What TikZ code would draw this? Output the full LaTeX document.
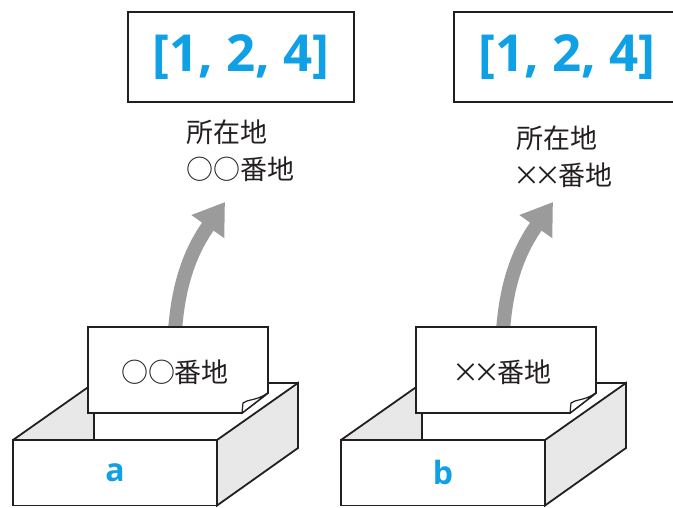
\documentclass[tikz,border=0pt]{standalone}
\usepackage{fontspec}
\setmainfont{Open Sans}
\newfontfamily\jpfont{Noto Sans CJK JP}
\usetikzlibrary{arrows.meta}

\definecolor{valblue}{HTML}{0FA0E6}
\definecolor{arrowgray}{HTML}{9B9B9B}
\definecolor{sidegray}{HTML}{E8E8E8}
\definecolor{inkline}{HTML}{231F20}

% a narrow multiplication sign
\newcommand\nx{\makebox[21pt][c]{×}}

\tikzset{
  edge/.style={draw=inkline, line width=1.8pt, line join=miter},
  valuebox/.style={draw=inkline, line width=2.6pt, fill=white,
    minimum width=226pt, minimum height=90pt, inner sep=0pt,
    text=valblue, font=\fontsize{51}{51}\selectfont\bfseries},
  addrlabel/.style={anchor=north west, align=left, inner sep=0pt,
    text=inkline, font=\jpfont\fontsize{27}{37}\selectfont},
  cardtext/.style={inner sep=0pt, text=inkline,
    font=\jpfont\fontsize{27}{27}\selectfont},
  frontface/.style={edge, fill=white, minimum width=204pt,
    minimum height=65.5pt, inner sep=0pt, text=valblue,
    font=\fontsize{32}{32}\selectfont\bfseries},
  addrarrow/.style={draw=arrowgray, line width=14pt,
    -{Triangle[length=30pt, width=38pt]}},
}

% An open tray holding an address card, with an arrow rising from the card.
% #1 name prefix, #2 text on the card, #3 letter on the tray front
\newcommand\drawtray[3]{%
  % inside of the tray: left wall and the back rim
  \fill[sidegray] (13,67) -- (94,124) -- (94,67) -- cycle;
  \draw[edge] (94,124) -- (94,67);
  \draw[edge] (13,67) -- (94,124) -- (298,124);
  % arrow from the card up to the address
  \coordinate (#1from) at (175,176);
  \coordinate (#1tip) at (225,305);
  \draw[addrarrow] (#1from) to[out=86, in=235] (#1tip);
  % the card with a folded corner
  \filldraw[edge, fill=white] (88,180) -- (268,180) -- (268,114)
    -- (242,94) -- (88,94) -- cycle;
  \filldraw[edge, line width=1.2pt, fill=white] (268,114)
    .. controls (256,106) and (248,108) .. (243,104) -- (242,94) -- cycle;
  \node[cardtext] (#1card) at (175,135) {#2};
  % outer faces of the tray
  \filldraw[edge, fill=sidegray] (217,67) -- (298,124) -- (298,59)
    -- (217,1.5) -- cycle;
  \node[frontface] (#1front) at (115,34.25) {#3};
}

\begin{document}
\begin{tikzpicture}[x=1pt, y=1pt]
  \useasboundingbox (0,0) rectangle (673,507);
  \clip (0,0) rectangle (673,507);

  % left: tray a
  \node[valuebox] (Lvalue) at (241,450) {[1, 2, 4]};
  \node[addrlabel] (Laddr) at (186,387) {所在地\\○○番地};
  \drawtray{L}{○○番地}{a}

  % right: tray b
  \node[valuebox] (Rvalue) at (567,450) {[1, 2, 4]};
  \node[addrlabel] (Raddr) at (516,381) {所在地\\\nx\nx 番地};
  \begin{scope}[xshift=328pt]
    \drawtray{R}{\nx\nx 番地}{b}
  \end{scope}
\end{tikzpicture}
\end{document}
